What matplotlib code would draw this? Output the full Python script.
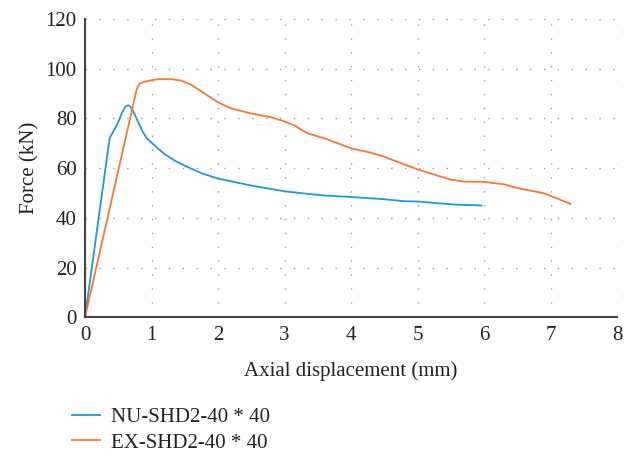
import matplotlib
matplotlib.use("Agg")
import matplotlib.pyplot as plt

nu_x = [0, 0.37, 0.42, 0.50, 0.56, 0.61, 0.65, 0.69, 0.74, 0.80, 0.87, 0.93, 1.0, 1.1, 1.2, 1.35, 1.5, 1.75, 2.0, 2.5, 3.0, 3.23, 3.6, 4.0, 4.5, 4.8, 5.0, 5.3, 5.6, 5.96]
nu_y = [0, 72, 74.5, 78.5, 82.5, 84.8, 85.3, 84.5, 82, 78.5, 74.5, 72, 70.3, 67.8, 65.6, 63, 61, 58, 55.8, 53, 50.7, 50, 49, 48.4, 47.5, 46.7, 46.6, 45.9, 45.3, 45.0]

ex_x = [0, 0.78, 0.82, 0.9, 1.0, 1.1, 1.3, 1.45, 1.6, 1.8, 2.0, 2.2, 2.5, 2.8, 3.0, 3.15, 3.25, 3.35, 3.6, 4.0, 4.3, 4.5, 4.8, 5.0, 5.3, 5.5, 5.7, 6.0, 6.3, 6.5, 6.9, 7.1, 7.3]
ex_y = [0, 92.0, 94.0, 94.8, 95.4, 95.8, 95.8, 95.2, 93.5, 90.0, 86.5, 84.0, 82.0, 80.5, 78.8, 77.2, 75.5, 74.0, 72.0, 68.0, 66.2, 64.6, 61.5, 59.5, 57.0, 55.4, 54.6, 54.5, 53.5, 52.0, 49.9, 47.8, 45.6]

x_ticks = [0, 1, 2, 3, 4, 5, 6, 7, 8]
y_ticks = [0, 20, 40, 60, 80, 100, 120]
labels = ["NU-SHD2-40 * 40", "EX-SHD2-40 * 40"]

plt.rcParams['font.family'] = ['Liberation Serif', 'DejaVu Serif']

fig = plt.figure(figsize=(6.24, 4.55), dpi=100)
ax = fig.add_axes([0.1362, 0.3026, 0.8528, 0.6556])

ax.plot(nu_x, nu_y, color='#1f9ad6', lw=1.3, label=labels[0])
ax.plot(ex_x, ex_y, color='#f47a2f', lw=1.3, label=labels[1])

ax.set_xlim(0, 8)
ax.set_ylim(0, 120)
ax.set_xticks(x_ticks)
ax.set_yticks(y_ticks)
ax.tick_params(length=0, labelsize=15, colors='#222222', pad=6)
ax.grid(True, color='#999999', linestyle=(0, (1, 9)), linewidth=1.0)
for s in ['top', 'right']:
    ax.spines[s].set_visible(False)
for s in ['left', 'bottom']:
    ax.spines[s].set_color('#444444')
    ax.spines[s].set_linewidth(1.5)

ax.set_xlabel('Axial displacement (mm)', fontsize=15, color='#222222', labelpad=12)
ax.set_ylabel('Force (kN)', fontsize=15, color='#222222', labelpad=4)

ax.legend(loc='upper left', bbox_to_anchor=(0.115, 0.105), bbox_transform=fig.transFigure,
          frameon=False, fontsize=15, handlelength=1.35, labelspacing=0.3, handletextpad=0.55,
          borderaxespad=0, borderpad=0, labelcolor='#222222')

fig.savefig('out.png', dpi=100)
